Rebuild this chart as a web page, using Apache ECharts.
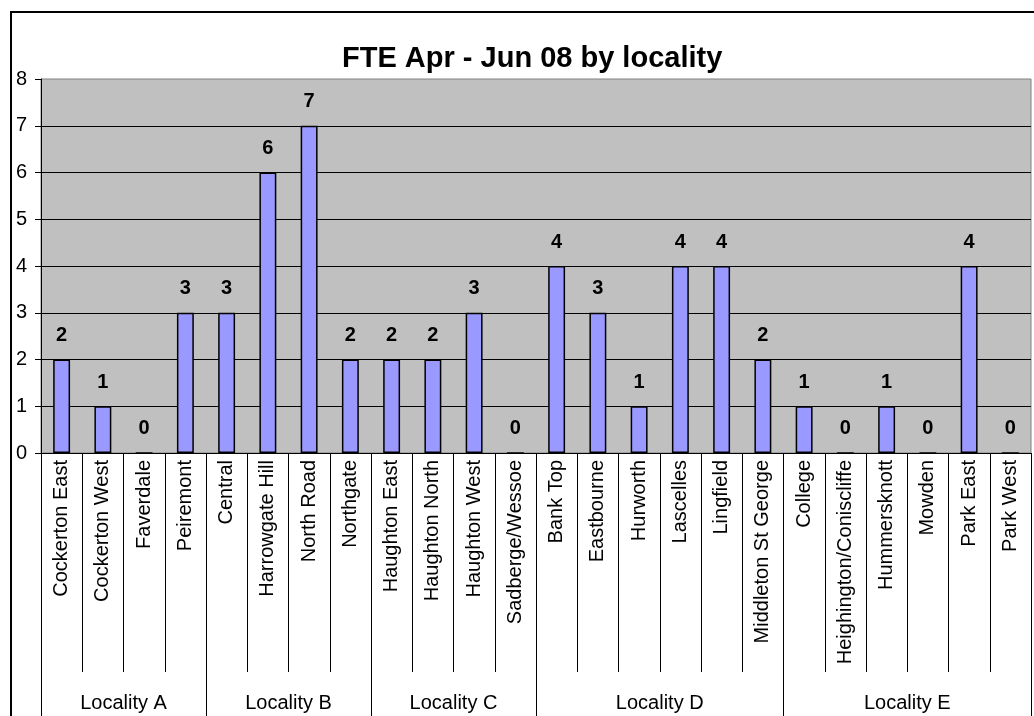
<!DOCTYPE html>
<html>
<head>
<meta charset="utf-8">
<script src="https://cdn.jsdelivr.net/npm/echarts@6/dist/echarts.min.js"></script>
<style>
html,body{margin:0;padding:0;background:#fff;}
#chart{width:1034px;height:716px;}
</style>
</head>
<body>
<div id="chart"></div>
<script>
const titleText = 'FTE Apr - Jun 08 by locality';
const categories = ['Cockerton East','Cockerton West','Faverdale','Peiremont',
  'Central','Harrowgate Hill','North Road','Northgate',
  'Haughton East','Haughton North','Haughton West','Sadberge/Wessoe',
  'Bank Top','Eastbourne','Hurworth','Lascelles','Lingfield','Middleton St George',
  'College','Heighington/Coniscliffe','Hummersknott','Mowden','Park East','Park West'];
const values = [2,1,0,3, 3,6,7,2, 2,2,3,0, 4,3,1,4,4,2, 1,0,1,0,4,0];
const groups = ['Locality A','Locality B','Locality C','Locality D','Locality E'];
const groupSizes = [4,4,4,6,6];
const yTicks = [0,1,2,3,4,5,6,7,8];

// group boundaries and centres derived from group sizes
const bounds = [0];
groupSizes.forEach(s => bounds.push(bounds[bounds.length-1] + s));
const centres = groupSizes.map((s,i) => bounds[i] + s/2);

const FONT = '"Liberation Sans", Arial, sans-serif';
const chart = echarts.init(document.getElementById('chart'));
chart.setOption({
  animation: false,
  backgroundColor: '#fff',
  title: {
    text: titleText,
    left: 337, top: 39,
    textStyle: {fontFamily: FONT, fontSize: 29, fontWeight: 'bold', color: '#000'}
  },
  graphic: [{
    type: 'rect', z: -10, silent: true,
    shape: {x: 11, y: 12, width: 1100, height: 800},
    style: {fill: 'none', stroke: '#000', lineWidth: 2}
  }],
  grid: {
    left: 41, right: 3, top: 79, bottom: 263,
    containLabel: false, outerBoundsMode: 'none',
    show: true, backgroundColor: '#C0C0C0', borderColor: '#808080', borderWidth: 1
  },
  xAxis: [{
    type: 'category',
    data: categories,
    boundaryGap: true,
    axisLine: {show: true, lineStyle: {color: '#000', width: 1}},
    axisTick: {show: true, alignWithLabel: false, interval: 0, length: 219, lineStyle: {color: '#000', width: 1}},
    axisLabel: {show: true, interval: 0, rotate: 90, margin: 7, fontFamily: FONT, fontSize: 20, color: '#000'},
    splitLine: {show: false}
  }, {
    type: 'value',
    min: bounds[0], max: bounds[bounds.length-1],
    position: 'bottom',
    axisLine: {show: false},
    axisTick: {show: true, customValues: bounds, length: 263, lineStyle: {color: '#000', width: 1}},
    axisLabel: {
      show: true, customValues: centres, margin: 240,
      fontFamily: FONT, fontSize: 20, color: '#000',
      formatter: v => { const i = centres.indexOf(v); return i >= 0 ? groups[i] : ''; }
    },
    splitLine: {show: false}
  }],
  yAxis: {
    type: 'value',
    min: yTicks[0], max: yTicks[yTicks.length-1], interval: 1,
    axisLine: {show: true, lineStyle: {color: '#000', width: 1}},
    axisTick: {show: true, length: 6, lineStyle: {color: '#000'}},
    axisLabel: {margin: 14, fontFamily: FONT, fontSize: 20, color: '#000'},
    splitLine: {show: true, showMaxLine: false, lineStyle: {color: '#000', width: 1}}
  },
  series: [{
    type: 'bar',
    xAxisIndex: 0,
    data: values,
    barWidth: '41%',
    itemStyle: {color: '#9999FF', borderColor: '#000', borderWidth: 1.5},
    label: {show: true, position: 'top', distance: 14, fontFamily: FONT, fontSize: 20, fontWeight: 'bold', color: '#000'}
  }]
});
</script>
</body>
</html>
